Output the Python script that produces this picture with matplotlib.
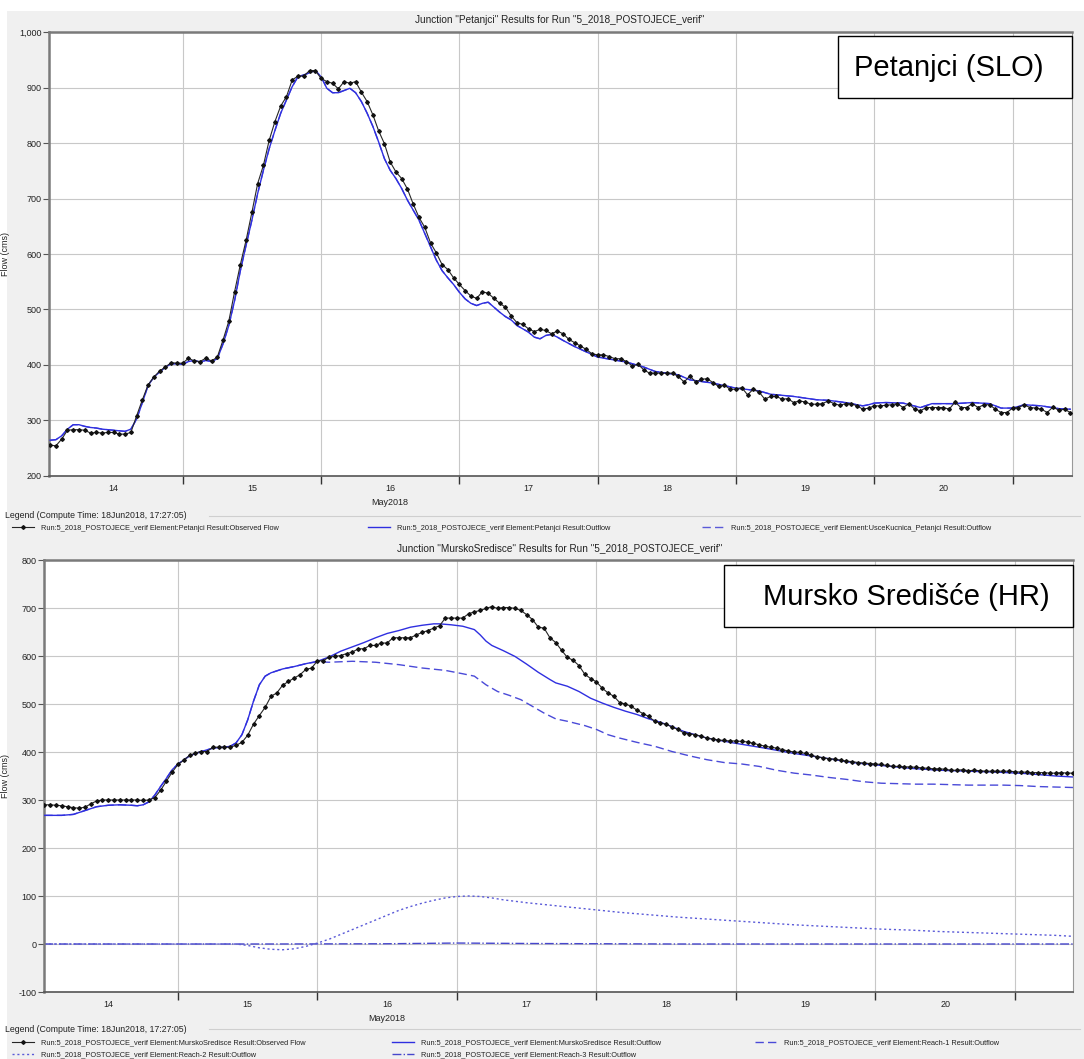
import matplotlib
matplotlib.use("Agg")
import matplotlib.pyplot as plt
from matplotlib.patches import Rectangle
from matplotlib.lines import Line2D

plt.rcParams['font.family'] = ['Liberation Sans', 'DejaVu Sans']

# ---------------- DATA ----------------
# time axis: hours after 14 May 2018 00:00
day_edges = [24, 48, 72, 96, 120, 144, 168]
day_mids = [12, 36, 60, 84, 108, 132, 156]
day_labels = ['14', '15', '16', '17', '18', '19', '20']

# Top chart: Petanjci
t_obs_top = list(range(1, 179))
q_obs_top = [255, 254, 266, 282, 283, 283, 282, 277, 278, 277, 278, 278, 275, 275, 278, 308, 337, 364, 378, 389,
             396, 404, 403, 403, 412, 407, 406, 412, 407, 414, 445, 479, 532, 581, 625, 675, 727, 760, 805, 839,
             867, 884, 914, 921, 921, 931, 931, 917, 911, 908, 898, 911, 908, 911, 892, 875, 851, 822, 799, 766,
             748, 736, 717, 690, 666, 648, 620, 602, 581, 572, 557, 545, 534, 524, 520, 532, 529, 520, 511, 504,
             488, 476, 473, 465, 460,
             464, 462, 456, 461, 456, 446, 440, 434, 428, 420, 418, 418, 415, 411, 411, 406, 398, 401, 391, 385,
             385, 385, 385, 385, 379, 369, 380, 369, 374, 375, 368, 361, 363, 356, 356, 359, 346, 356, 351, 338,
             343, 343, 338, 339, 332, 335, 333, 329, 329, 330, 335, 330, 327, 330, 330, 326, 320, 322, 326, 326,
             327, 328, 330, 323, 330, 320, 317, 323, 323, 323, 323, 320, 333, 323, 323, 330, 323, 328, 328, 320,
             314, 314, 322, 323, 328, 323, 322, 320, 314, 324, 318, 320, 314]

t_sim_top = list(range(1, 91)) + [92, 96, 101, 104, 106, 110, 112, 116, 120, 124, 126, 130, 134, 136, 139,
                                  142, 143, 144, 146, 149, 152, 154, 158, 161, 164, 166, 168, 170, 173, 176, 178]
q_sim_top = [264, 265, 272, 284, 292, 292, 289, 287, 286, 284, 283, 282, 281, 280, 284, 302, 332, 363, 378, 387,
             396, 402, 402, 401, 406, 408, 405, 408, 406, 411, 438, 471, 516, 570, 616, 661, 709, 751, 790, 823,
             854, 878, 902, 920, 923, 927, 931, 920, 899, 891, 891, 895, 899, 891, 875, 854, 830, 802, 772, 751,
             736, 718, 697, 679, 661, 637, 613, 589, 570, 557, 545, 531, 519, 511, 507, 511, 513, 504, 495, 487,
             481, 471, 465, 459, 450, 447, 453, 455, 450, 444,
             433, 414, 405, 396, 388, 382, 373, 367, 358, 353, 347, 343, 337, 336, 332,
             326, 328, 331, 332, 331, 323, 330, 330, 332, 330, 322, 322, 328, 326, 321, 320]
q_usce_top = q_sim_top

# Bottom chart: MurskoSredisce
t_obs_bot = list(range(1, 179))
q_obs_bot = [290, 290, 289, 288, 286, 284, 283, 285, 292, 298, 300, 300, 300, 300, 300, 300, 300, 299, 300, 305,
             320, 339, 358, 374, 383, 393, 398, 401, 401, 410, 410, 410, 410, 414, 420, 435, 458, 476, 493, 516,
             523, 539, 547, 554, 561, 572, 575, 590, 590, 598, 599, 601, 605, 608, 615, 615, 622, 622, 627, 627,
             638, 638, 638, 638, 644, 649, 653, 658, 663, 679, 679, 679, 679, 688, 692, 695, 699, 703, 699, 701,
             701, 699, 695, 686, 676, 660, 658, 638, 628, 612, 597, 591, 580, 562, 553, 546, 533, 523, 516, 503,
             500, 495, 487, 480, 474, 464, 460, 458, 452, 447, 440, 438, 436, 433, 429,
             427, 425, 424, 423, 423, 422, 421, 418, 415, 412, 410, 408, 405, 402, 400, 399, 397, 393, 390, 388,
             386, 385, 383, 381, 380, 378, 377, 376, 375, 374, 372, 370, 370, 369, 369, 368, 367, 366, 365, 365,
             364, 362, 362, 363, 361, 362, 361, 360, 360, 360, 360, 360, 359, 358, 358, 357, 357, 357, 356, 356,
             357, 356, 356]

t_sim_bot = [1, 4, 6, 8, 10, 12, 14, 16, 17, 18, 19, 20, 21, 22, 23, 24, 26, 28, 30, 32, 33, 34, 35, 36, 37,
             38, 39, 40, 42, 44, 46, 48, 50, 52, 54, 56, 58, 60, 62, 64, 66, 68, 69, 71, 73, 75, 76, 77, 78, 80,
             82, 84, 86, 88, 89, 91, 93, 95, 97, 99, 101, 103, 105, 107, 109, 111, 113, 115, 120, 125, 130, 135,
             140, 145, 150, 155, 160, 165, 170, 175, 178]
q_sim_bot = [268, 268, 270, 278, 286, 289, 290, 289, 288, 290, 296, 310, 328, 345, 363, 375, 392, 401, 408, 410,
             412, 419, 436, 467, 506, 540, 558, 565, 573, 578, 584, 589, 598, 610, 619, 628, 638, 647, 653, 660,
             664, 667, 667, 665, 662, 655, 644, 631, 622, 611, 599, 583, 566, 551, 544, 537, 526, 512, 502, 493,
             485, 478, 469, 462, 453, 443, 436, 429, 418, 408, 397, 388, 378, 372, 366, 362, 360, 358, 355, 350,
             348]

t_reach1 = [1, 4, 6, 8, 10, 12, 14, 16, 17, 18, 19, 20, 21, 22, 23, 24, 26, 28, 30, 32, 33, 34, 35, 36, 37,
            38, 39, 40, 42, 44, 46, 48, 50, 54, 58, 62, 66, 70, 73, 75, 77, 79, 81, 83, 85, 87, 89, 91, 94, 96,
            98, 100, 103, 106, 109, 112, 115, 118, 121, 124, 127, 130, 133, 136, 139, 142, 145, 148, 151, 154,
            157, 160, 163, 166, 169, 172, 175, 178]
q_reach1 = [268, 268, 270, 278, 286, 289, 290, 289, 288, 290, 296, 310, 328, 345, 363, 375, 392, 401, 408, 410,
            412, 419, 436, 467, 506, 540, 558, 565, 573, 578, 584, 588, 587, 589, 587, 582, 575, 570, 563, 558,
            540, 526, 518, 509, 495, 481, 469, 464, 455, 447, 436, 429, 420, 412, 401, 392, 384, 378, 375, 370,
            362, 356, 352, 347, 343, 338, 335, 334, 333, 333, 332, 331, 331, 331, 330, 328, 327, 326]

t_reach2 = [1, 34, 36, 38, 40, 42, 44, 46, 48, 50, 52, 54, 56, 58, 60, 62, 64, 66, 68, 70, 72, 74, 76, 78, 80,
            84, 88, 92, 96, 100, 105, 110, 115, 120, 125, 130, 135, 140, 145, 150, 155, 160, 165, 170, 175, 178]
q_reach2 = [0, 0, -3, -8, -11, -12, -10, -5, 2, 10, 20, 30, 40, 50, 60, 70, 78, 85, 91, 96, 99, 100, 99, 96, 92,
            86, 81, 76, 71, 66, 61, 56, 52, 48, 44, 40, 37, 34, 31, 29, 26, 24, 22, 20, 18, 16]

t_reach3 = [1, 40, 60, 72, 85, 110, 178]
q_reach3 = [0, 0, 0.5, 2, 1, 0, 0]

title_top = 'Junction "Petanjci" Results for Run "5_2018_POSTOJECE_verif"'
title_bot = 'Junction "MurskoSredisce" Results for Run "5_2018_POSTOJECE_verif"'
legend_title = 'Legend (Compute Time: 18Jun2018, 17:27:05)'
lab_top = ['Run:5_2018_POSTOJECE_verif Element:Petanjci Result:Observed Flow',
           'Run:5_2018_POSTOJECE_verif Element:Petanjci Result:Outflow',
           'Run:5_2018_POSTOJECE_verif Element:UsceKucnica_Petanjci Result:Outflow']
lab_bot = ['Run:5_2018_POSTOJECE_verif Element:MurskoSredisce Result:Observed Flow',
           'Run:5_2018_POSTOJECE_verif Element:MurskoSredisce Result:Outflow',
           'Run:5_2018_POSTOJECE_verif Element:Reach-1 Result:Outflow',
           'Run:5_2018_POSTOJECE_verif Element:Reach-2 Result:Outflow',
           'Run:5_2018_POSTOJECE_verif Element:Reach-3 Result:Outflow']
yticks_top = [200, 300, 400, 500, 600, 700, 800, 900, 1000]
yticks_bot = [-100, 0, 100, 200, 300, 400, 500, 600, 700, 800]

# ---------------- FIGURE ----------------
W, H = 1084, 1059
fig = plt.figure(figsize=(W / 100, H / 100), dpi=100)
fig.patch.set_facecolor('white')
fig.add_artist(Rectangle((7 / W, 0), 1 - 7 / W, 1 - 11 / H, transform=fig.transFigure,
                         facecolor='#f0f0f0', edgecolor='none', zorder=-10))


def fx(px):
    return px / W


def fy(py):
    return 1 - py / H


OBS = dict(color='#262626', lw=0.8, marker='D', ms=1.9, mfc='#111111', mec='#111111')
SIM = dict(color='#2f2fe0', lw=1.0)
GRID = '#c8c8c8'


def style_axes(ax, xlim, ylim, yticks, ylab_x):
    ax.set_facecolor('white')
    ax.set_xlim(*xlim)
    ax.set_ylim(*ylim)
    ax.set_xticks(day_edges)
    ax.set_xticklabels([])
    ax.set_xticks(day_mids, minor=True)
    ax.set_xticklabels(day_labels, minor=True)
    ax.tick_params(axis='x', which='major', length=6, width=1, color='#333333', direction='out')
    ax.tick_params(axis='x', which='minor', length=0, pad=6, labelsize=6.5, labelcolor='#222222')
    ax.set_yticks(yticks)
    ax.set_yticklabels([f'{v:,}' for v in yticks])
    ax.tick_params(axis='y', length=4, width=0.8, color='#555555', pad=1.5, labelsize=6.5,
                   labelcolor='#222222')
    ax.grid(True, which='major', color=GRID, lw=0.8)
    ax.set_axisbelow(True)
    for s in ['left', 'top']:
        ax.spines[s].set_color('#7a7a7a')
        ax.spines[s].set_linewidth(1.8)
    ax.spines['bottom'].set_color('#555555')
    ax.spines['bottom'].set_linewidth(1.2)
    ax.spines['right'].set_color('#999999')
    ax.spines['right'].set_linewidth(0.8)
    ax.set_ylabel('Flow (cms)', fontsize=6.5, color='#222222')
    ax.yaxis.set_label_coords(ylab_x, 0.5)
    ax.annotate('May2018', xy=(60, 0), xycoords=('data', 'axes fraction'), xytext=(0, -19),
                textcoords='offset points', ha='center', va='center', fontsize=6.5, color='#222222')


# ---- top axes ----
axT = fig.add_axes([fx(49.3), fy(475.7), fx(1072 - 49.3), (475.7 - 32.3) / H])
l_usce, = axT.plot(t_sim_top, q_usce_top, color='#5a5ad8', lw=1.0, ls=(0, (6, 3)), zorder=2)
l_simT, = axT.plot(t_sim_top, q_sim_top, zorder=3, **SIM)
l_obsT, = axT.plot(t_obs_top, q_obs_top, zorder=4, **OBS)
style_axes(axT, (0.85, 178.3), (200, 1000), yticks_top, (10 - 49.3) / (1072 - 49.3))

# ---- bottom axes ----
axB = fig.add_axes([fx(44.3), fy(992), fx(1073 - 44.3), (992 - 560) / H])
l_r3, = axB.plot(t_reach3, q_reach3, color='#4646cc', lw=1.0, ls='-.', zorder=2)
l_r2, = axB.plot(t_reach2, q_reach2, color='#5a5ad8', lw=1.0, ls=(0, (1.5, 2)), zorder=2)
l_r1, = axB.plot(t_reach1, q_reach1, color='#4a4ad8', lw=1.0, ls=(0, (6, 3)), zorder=2)
l_simB, = axB.plot(t_sim_bot, q_sim_bot, zorder=3, **SIM)
l_obsB, = axB.plot(t_obs_bot, q_obs_bot, zorder=4, **OBS)
style_axes(axB, (1.0, 178.0), (-100, 800), yticks_bot, (10 - 44.3) / (1073 - 44.3))

# ---- titles ----
fig.text(fx(560), fy(20), title_top, ha='center', va='center', fontsize=7.2, color='#222222')
fig.text(fx(560), fy(548), title_bot, ha='center', va='center', fontsize=7.2, color='#222222')

# ---- legends ----
for ly in [515.5, 1029]:
    fig.text(fx(5), fy(ly), legend_title, ha='left', va='center', fontsize=6.3, color='#222222')
    fig.add_artist(Line2D([fx(209), fx(1080)], [fy(ly), fy(ly)], transform=fig.transFigure,
                          color='#cfcfcf', lw=0.8))


def add_entry(handle, label, x, y):
    fig.legend(handles=[handle], labels=[label], loc='center left', bbox_to_anchor=(fx(x), fy(y)),
               frameon=False, fontsize=5.3, handlelength=3.0, handletextpad=0.9, borderpad=0,
               borderaxespad=0, labelcolor='#222222')


add_entry(l_obsT, lab_top[0], 12, 528)
add_entry(l_simT, lab_top[1], 368, 528)
add_entry(l_usce, lab_top[2], 702, 528)

add_entry(l_obsB, lab_bot[0], 12, 1043)
add_entry(l_simB, lab_bot[1], 392, 1043)
add_entry(l_r1, lab_bot[2], 755, 1043)
add_entry(l_r2, lab_bot[3], 12, 1055)
add_entry(l_r3, lab_bot[4], 392, 1055)

# ---- station boxes ----
fig.add_artist(Rectangle((fx(838), fy(98)), fx(1072 - 838), (98 - 36) / H, transform=fig.transFigure,
                         facecolor='white', edgecolor='black', lw=1.0, zorder=5))
fig.text(fx(854), fy(68), 'Petanjci (SLO)', ha='left', va='center', fontsize=21, color='black', zorder=6)

fig.add_artist(Rectangle((fx(724), fy(627)), fx(1073 - 724), (627 - 565) / H, transform=fig.transFigure,
                         facecolor='white', edgecolor='black', lw=1.0, zorder=5))
fig.text(fx(763), fy(597), 'Mursko Središće (HR)', ha='left', va='center', fontsize=21, color='black',
         zorder=6)

fig.savefig('out.png', dpi=100, facecolor=fig.get_facecolor())
